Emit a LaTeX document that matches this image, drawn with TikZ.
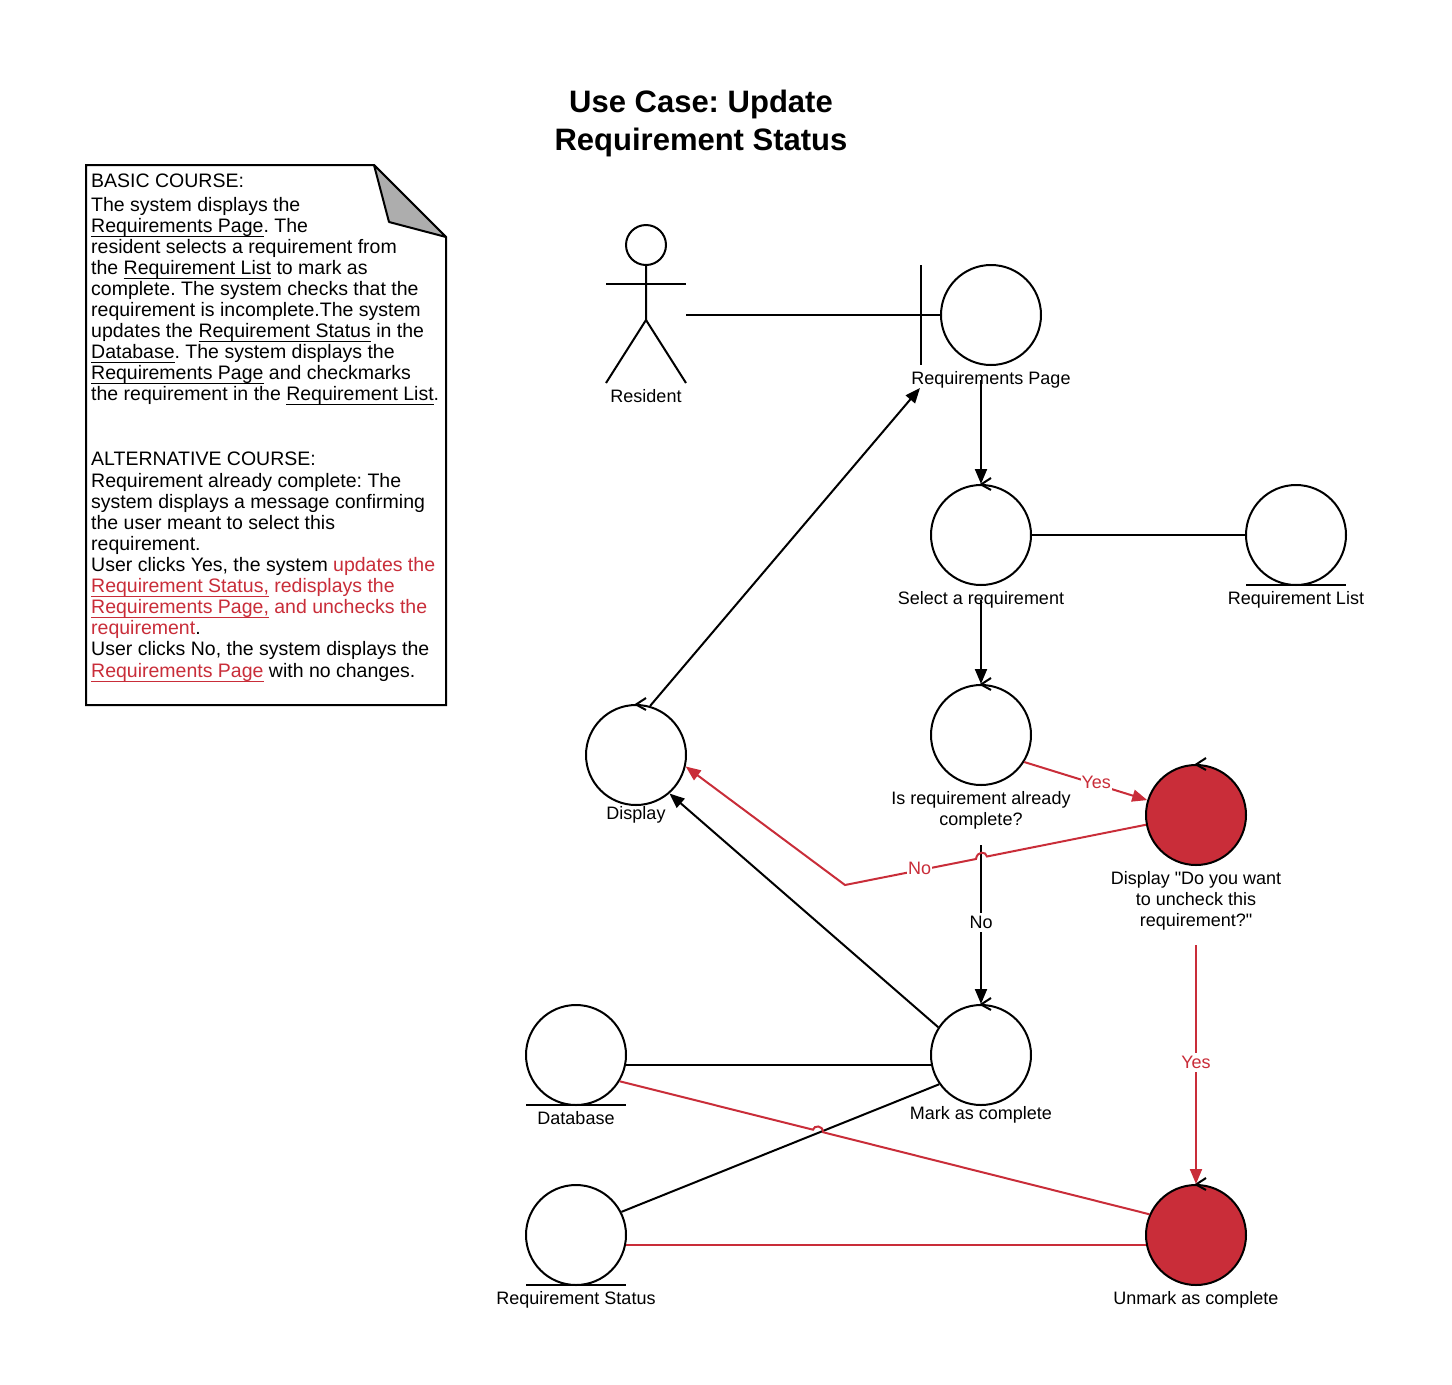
\documentclass[tikz,border=0pt]{standalone}
\usepackage{fontspec}
\setmainfont{Liberation Sans}
\usepackage{xcolor}
\usetikzlibrary{arrows.meta,positioning}
\definecolor{chart-red}{HTML}{C92D39}
\definecolor{chart-fold}{HTML}{ADADAD}

\newcommand{\ctrltick}[1]{\draw[line width=2pt] ([xshift=10pt,yshift=6pt]#1.north) -- ([yshift=-.5pt]#1.north) -- ([xshift=10pt,yshift=-6pt]#1.north);}
\newcommand{\entitybar}[1]{\draw[line width=1.6pt] ([xshift=-50pt,yshift=1pt]#1.south) -- ([xshift=50pt,yshift=1pt]#1.south);}
\newcommand{\redtxt}[1]{\textcolor{chart-red}{#1}}
\newcommand{\doclink}[1]{\setbox0\hbox{#1}\rlap{\rule[-4.5pt]{\wd0}{1.6pt}}\box0\relax}

\begin{document}
\frenchspacing
\begin{tikzpicture}[x=1pt,y=-1pt,>={Triangle[length=15pt,width=12pt]},node distance=200pt]
  \tikzstyle{circ}=[circle,draw,line width=2pt,fill=white,minimum size=100pt,inner sep=0pt]
  \tikzstyle{every label}=[font=\fontsize{18}{21}\selectfont,align=center,inner sep=0pt,label distance=5pt]
  \tikzstyle{redcirc}=[circ,fill=chart-red]
  \tikzstyle{flow}=[line width=2pt]
  \tikzstyle{redflow}=[line width=2pt,chart-red]
  \tikzstyle{edgelbl}=[font=\fontsize{18}{21}\selectfont,fill=white,inner xsep=1pt,inner ysep=3pt,yshift=2pt]

  \useasboundingbox (0,0) rectangle (1452,1385);

  \node[font=\bfseries\fontsize{31}{38}\selectfont,align=center] (title) at (701,123)
    {Use Case: Update\\Requirement Status};

  %% course note
  \draw[line width=2pt,fill=white] (86,165) coordinate (nw) -- (374,165) coordinate (foldtop)
    -- (446,237) coordinate (foldright) -- (446,705) -- (86,705) -- cycle;
  \draw[line width=2pt,fill=chart-fold,line join=bevel] (foldtop) -- (389,222) -- (foldright) -- cycle;
  \node[anchor=north west,align=left,inner sep=0pt,font=\fontsize{19.5}{21}\selectfont] (coursetext) at (91,174)
    {BASIC COURSE:\\[3pt]
     The system displays the\\
     \doclink{Requirements Page}. The\\
     resident selects a requirement from\\
     the \doclink{Requirement List} to mark as\\
     complete. The system checks that the\\
     requirement is incomplete.The system\\
     updates the \doclink{Requirement Status} in the\\
     \doclink{Database}. The system displays the\\
     \doclink{Requirements Page} and checkmarks\\
     the requirement in the \doclink{Requirement List}.\\[44pt]
     ALTERNATIVE COURSE:\\[1pt]
     Requirement already complete: The\\
     system displays a message confirming\\
     the user meant to select this\\
     requirement.\\
     User clicks Yes, the system \redtxt{updates the}\\
     \redtxt{\doclink{Requirement Status,} redisplays the}\\
     \redtxt{\doclink{Requirements Page,} and unchecks the}\\
     \redtxt{requirement}.\\
     User clicks No, the system displays the\\[1pt]
     \redtxt{\doclink{Requirements Page}} with no changes.};

  %% actor
  \node[circle,draw,line width=2pt,minimum size=40pt,inner sep=0pt] (head) at (646,245) {};
  \coordinate (hip) at (646,320);
  \coordinate (actorhand) at (686,315);
  \draw[line width=2pt] (head) -- (hip) -- (606,383);
  \draw[line width=2pt] (hip) -- (686,383);
  \draw[line width=2pt] (606,284) -- (686,284);
  \node[font=\fontsize{18}{21}\selectfont] (resident) at (646,396) {Resident};

  %% objects
  \node[circ,label={below:Requirements Page}] (page) at (991,315) {};
  \node[circ,label={below:Select a requirement}] (select) at (981,535) {};
  \node[circ,label={below:Requirement List}] (list) [right=213pt of select] {};
  \node[circ,label={below:Is requirement already\\complete?}] (isdone) [below of=select] {};
  \node[circ,label={[label distance=0pt]below:Display}] (display) at (636,755) {};
  \node[redcirc,label={below:Display \textquotedbl Do you want\\to uncheck this\\requirement?\textquotedbl}] (askuncheck) at (1196,815) {};
  \node[circ,label={[label distance=0pt]below:Mark as complete}] (mark) at (981,1055) {};
  \node[circ,label={below:Database}] (database) at (576,1055) {};
  \node[circ,label={below:Requirement Status}] (status) at (576,1235) {};
  \node[redcirc,label={below:Unmark as complete}] (unmark) at (1196,1235) {};

  \draw[line width=2pt] (921,265) coordinate (bartop) -- (921,365);
  \ctrltick{select}
  \ctrltick{isdone}
  \ctrltick{display}
  \ctrltick{askuncheck}
  \ctrltick{mark}
  \ctrltick{unmark}
  \entitybar{list}
  \entitybar{database}
  \entitybar{status}

  \coordinate (pageout) at (981,380);
  \coordinate (pagetip) at (920,388);
  \coordinate (selectout) at (981,600);
  \coordinate (isdoneout) at (981,845);
  \coordinate (askout) at (1196,945);
  \coordinate (nobend) at (845,885);

  %% basic path
  \path[flow]
  (actorhand)  edge (page.180)
  (select)     edge (list)
  (database.-11.5) edge (mark.191.5)
  (status.27)  edge (mark.215);
  \path[->,flow]
  (pageout)    edge (select.north)
  (selectout)  edge (isdone.north)
  (isdoneout)  edge node[edgelbl] {No} (mark.north)
  (mark.147)   edge (display.-49)
  (display.74) edge (pagetip);

  %% alternative path
  \path[->,redflow]
  (isdone.-32) edge node[edgelbl,pos=.585] {Yes} (askuncheck.163)
  (askout)     edge node[edgelbl,pos=.5] {Yes} (unmark.north);
  \draw[->,redflow] (askuncheck.191) -- (987,856.5) .. controls (986,851) and (977,851) .. (976,859)
    -- node[edgelbl,pos=.43] (nolbl) {No} (nobend) -- (display.-13);
  \draw[redflow] (database.-31) -- (813,1129.7) .. controls (814,1125) and (823,1125) .. (823,1132.2)
    -- (unmark.156);
  \draw[redflow] (status.-11.5) -- (unmark.191.5);
\end{tikzpicture}
\end{document}
